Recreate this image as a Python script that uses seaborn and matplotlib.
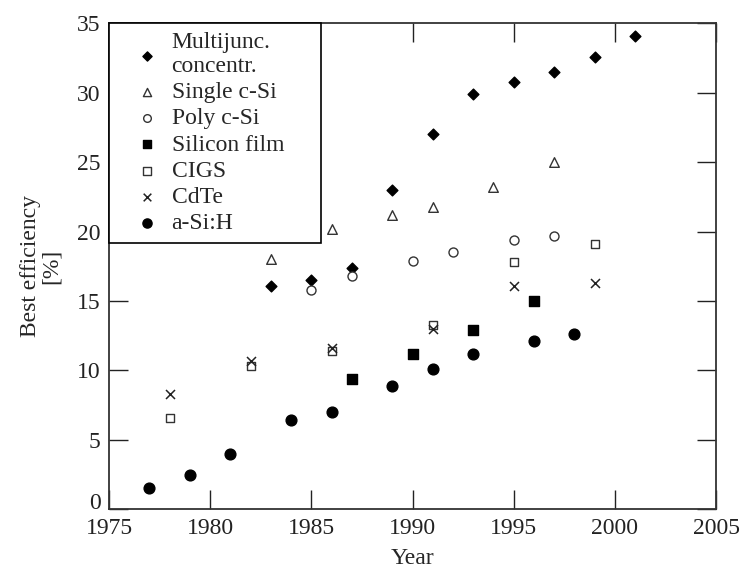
import matplotlib
matplotlib.use("Agg")
import matplotlib.pyplot as plt
import matplotlib.transforms as mtransforms
import seaborn as sns
import pandas as pd

# Best research-cell efficiencies per technology
multi_years = [1983, 1985, 1987, 1989, 1991, 1993, 1995, 1997, 1999, 2001]
multi_eff = [16.1, 16.5, 17.4, 23.0, 27.0, 29.9, 30.8, 31.5, 32.6, 34.1]

single_years = [1983, 1986, 1989, 1991, 1994, 1997]
single_eff = [18.0, 20.2, 21.2, 21.8, 23.2, 25.0]

poly_years = [1985, 1987, 1990, 1992, 1995, 1997]
poly_eff = [15.8, 16.8, 17.9, 18.5, 19.4, 19.7]

film_years = [1987, 1990, 1993, 1996]
film_eff = [9.4, 11.2, 12.9, 15.0]

cigs_years = [1978, 1982, 1986, 1991, 1995, 1999]
cigs_eff = [6.6, 10.3, 11.4, 13.3, 17.8, 19.1]

cdte_years = [1978, 1982, 1986, 1991, 1995, 1999]
cdte_eff = [8.3, 10.7, 11.6, 13.0, 16.1, 16.3]

asi_years = [1977, 1979, 1981, 1984, 1986, 1989, 1991, 1993, 1996, 1998]
asi_eff = [1.5, 2.5, 4.0, 6.4, 7.0, 8.9, 10.1, 11.2, 12.1, 12.6]

series = [
    ("Multijunc.\nconcentr.", multi_years, multi_eff, "D", True, 30),
    ("Single c-Si", single_years, single_eff, "^", False, 48),
    ("Poly c-Si", poly_years, poly_eff, "o", False, 42),
    ("Silicon film", film_years, film_eff, "s", True, 45),
    ("CIGS", cigs_years, cigs_eff, "s", False, 40),
    ("CdTe", cdte_years, cdte_eff, "x", True, 42),
    ("a-Si:H", asi_years, asi_eff, "o", True, 60),
]

sns.set_theme(style="ticks")
plt.rcParams["font.family"] = ["Liberation Serif", "DejaVu Serif"]

fig = plt.figure(figsize=(7.42, 5.70), dpi=100)
ax = fig.add_axes([0.1469, 0.1065, 0.8181, 0.8526])

for label, yrs, eff, marker, filled, size in series:
    df = pd.DataFrame({"Year": yrs, "Efficiency": eff})
    if marker == "x":
        sns.scatterplot(data=df, x="Year", y="Efficiency", ax=ax, marker="x",
                        color="#222222", s=size, linewidth=1.1, label=label)
    else:
        sns.scatterplot(data=df, x="Year", y="Efficiency", ax=ax, marker=marker,
                        facecolor="black" if filled else "white",
                        edgecolor="black" if filled else "#333333",
                        s=size, linewidth=1.0, label=label)

ax.set_xlim(1975, 2005)
ax.set_ylim(0, 35)
ax.set_xticks(range(1975, 2006, 5))
ax.set_yticks(range(0, 36, 5))
ax.tick_params(direction="in", length=14, width=1.0, top=True, right=True,
               labelsize=17, colors="#222222", pad=6)
for sp in ax.spines.values():
    sp.set_linewidth(1.3)
    sp.set_color("#333333")

# lift the zero label clear of the first year label
zero_label = ax.get_yticklabels()[0]
zero_label.set_transform(zero_label.get_transform() +
                         mtransforms.ScaledTranslation(0, 8 / 100, fig.dpi_scale_trans))

ax.set_xlabel("Year", fontsize=17, labelpad=7)
ax.set_ylabel("Best efficiency\n[%]", fontsize=17, labelpad=11, linespacing=1.0)

leg = ax.legend(loc="upper left", bbox_to_anchor=(0, 1, 0.349, 0), mode="expand",
                borderaxespad=0, frameon=True, fancybox=False,
                fontsize=17, labelspacing=0.2, handletextpad=-0.2,
                borderpad=0.35, handlelength=2.5, markerscale=0.85)
leg.get_frame().set_edgecolor("black")
leg.get_frame().set_linewidth(1.2)
leg.get_frame().set_alpha(1)

fig.savefig("out.png", dpi=100)
